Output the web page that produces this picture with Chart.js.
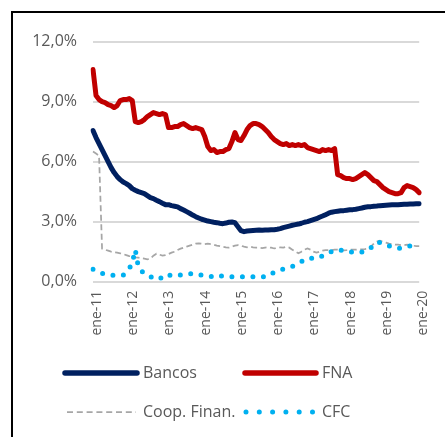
<!DOCTYPE html>
<html><head><meta charset="utf-8">
<script src="https://cdn.jsdelivr.net/npm/chart.js@4.4.1/dist/chart.umd.min.js"></script>
<style>
html,body{margin:0;padding:0;background:#fff;overflow:hidden}
#wrap{position:relative;width:445px;height:437px;overflow:hidden;background:#fff}
#frame{position:absolute;left:11px;top:11px;width:600px;height:600px;border:2px solid #000;box-sizing:border-box}
canvas{position:absolute;left:0;top:0}
</style></head><body>
<div id="wrap"><div id="frame"></div><canvas id="c" width="445" height="437"></canvas></div>
<script>
const monthNames = ["ene","feb","mar","abr","may","jun","jul","ago","sep","oct","nov","dic"];
const years = ["11","12","13","14","15","16","17","18","19","20"];
const seriesNames = ["Bancos","FNA","Coop. Finan.","CFC"];

const bancos = [
7.55,7.2,6.9,6.6,6.3,6.0,5.7,5.45,5.25,5.1,4.98,4.9,
4.8,4.65,4.57,4.5,4.45,4.4,4.3,4.2,4.15,4.07,4.0,3.92,
3.85,3.85,3.8,3.77,3.74,3.65,3.58,3.5,3.42,3.33,3.25,3.18,
3.12,3.08,3.03,3.0,2.97,2.95,2.92,2.9,2.93,2.97,2.98,2.95,
2.75,2.55,2.5,2.53,2.55,2.56,2.57,2.58,2.57,2.58,2.58,2.6,
2.6,2.62,2.65,2.7,2.74,2.78,2.82,2.85,2.88,2.92,2.97,3.0,
3.05,3.1,3.15,3.22,3.28,3.35,3.42,3.47,3.5,3.52,3.54,3.55,
3.57,3.59,3.6,3.62,3.65,3.68,3.72,3.74,3.75,3.77,3.78,3.8,
3.81,3.82,3.83,3.84,3.85,3.85,3.86,3.87,3.87,3.88,3.88,3.89,3.9];

const fna = [
10.6,9.3,9.1,9.0,8.95,8.85,8.8,8.7,8.8,9.05,9.1,9.1,
9.15,9.05,8.0,7.95,8.0,8.1,8.25,8.35,8.45,8.4,8.35,8.4,
8.35,7.7,7.7,7.75,7.75,7.85,7.9,7.8,7.7,7.65,7.7,7.65,
7.6,7.25,6.75,6.55,6.6,6.45,6.5,6.5,6.6,6.65,7.0,7.45,
7.1,7.05,7.3,7.6,7.8,7.9,7.9,7.85,7.75,7.6,7.45,7.25,
7.1,7.0,6.9,6.85,6.9,6.8,6.85,6.8,6.85,6.8,6.85,6.7,
6.65,6.6,6.55,6.5,6.6,6.55,6.6,6.55,6.65,5.35,5.3,5.2,
5.15,5.15,5.1,5.15,5.25,5.35,5.45,5.35,5.2,5.05,5.0,4.85,
4.7,4.6,4.5,4.45,4.4,4.4,4.45,4.7,4.8,4.75,4.7,4.6,4.45];

const coop = [
6.5,6.4,6.3,1.65,1.6,1.55,1.5,1.47,1.45,1.42,1.38,1.33,
1.28,1.25,1.22,1.2,1.17,1.15,1.12,1.15,1.3,1.4,1.35,1.3,
1.33,1.38,1.45,1.5,1.58,1.65,1.7,1.75,1.8,1.85,1.9,1.92,
1.9,1.88,1.9,1.88,1.85,1.8,1.78,1.75,1.72,1.7,1.75,1.8,
1.83,1.8,1.75,1.72,1.75,1.72,1.7,1.7,1.68,1.7,1.72,1.7,
1.66,1.68,1.72,1.7,1.74,1.7,1.6,1.5,1.42,1.5,1.6,1.66,
1.6,1.5,1.45,1.5,1.55,1.58,1.58,1.58,1.6,1.6,1.58,1.57,
1.58,1.6,1.6,1.6,1.62,1.62,1.63,1.65,1.75,1.9,2.0,2.05,
2.0,1.95,1.9,1.88,1.85,1.85,1.83,1.82,1.85,1.82,1.8,1.78,1.78];

const cfc = [
0.62,0.55,0.48,0.42,0.38,0.34,0.33,0.32,0.33,0.33,0.33,0.45,
0.65,0.95,1.6,0.75,0.55,0.4,0.3,0.25,0.18,0.14,0.12,0.25,
0.37,0.35,0.3,0.3,0.32,0.33,0.33,0.35,0.38,0.42,0.4,0.36,
0.33,0.3,0.28,0.25,0.28,0.33,0.3,0.26,0.25,0.25,0.25,0.25,
0.25,0.25,0.25,0.25,0.25,0.25,0.25,0.25,0.25,0.25,0.28,0.38,
0.48,0.53,0.58,0.63,0.67,0.72,0.77,0.82,0.9,1.0,1.1,1.17,
1.17,1.17,1.17,1.2,1.3,1.4,1.45,1.5,1.55,1.6,1.58,1.55,
1.5,1.5,1.48,1.46,1.45,1.48,1.52,1.6,1.7,1.85,1.98,1.95,
1.88,1.82,1.79,1.75,1.7,1.66,1.68,1.72,1.76,1.78,1.78,1.77,1.78];

const labels = [];
for (let i = 0; i < bancos.length; i++) {
  labels.push(monthNames[i % 12] + "-" + years[Math.floor(i / 12)]);
}

const FONT = "'Open Sans', 'DejaVu Sans', sans-serif";
const TXT = "#595959";

const legendLayout = [
  {i:0, x1:65, x2:137, y:373, tx:143},
  {i:1, x1:245, x2:316, y:373, tx:322},
  {i:2, x1:67, x2:136, y:412, tx:143},
  {i:3, x1:246, x2:313, y:412, tx:322}
];

const customLegend = {
  id: 'customLegend',
  afterDraw(chart) {
    const ctx = chart.ctx;
    legendLayout.forEach(it => {
      const ds = chart.data.datasets[it.i];
      ctx.save();
      ctx.strokeStyle = ds.borderColor;
      ctx.lineWidth = ds.legendWidth;
      ctx.lineCap = ds.borderCapStyle || 'butt';
      ctx.setLineDash(ds.legendDash || []);
      ctx.beginPath();
      ctx.moveTo(it.x1, it.y);
      ctx.lineTo(it.x2, it.y);
      ctx.stroke();
      ctx.setLineDash([]);
      ctx.fillStyle = TXT;
      ctx.font = "16px " + FONT;
      ctx.textAlign = 'left';
      ctx.textBaseline = 'middle';
      ctx.fillText(ds.label, it.tx, it.y + 0.5);
      ctx.restore();
    });
  }
};

new Chart(document.getElementById('c'), {
  type: 'line',
  data: {
    labels: labels,
    datasets: [
      {label: seriesNames[0], data: bancos, borderColor: '#002060', borderWidth: 5, legendWidth: 5.5,
       borderCapStyle: 'round', borderJoinStyle: 'round', pointRadius: 0, order: 3},
      {label: seriesNames[1], data: fna, borderColor: '#C00000', borderWidth: 5, legendWidth: 5.5,
       borderCapStyle: 'round', borderJoinStyle: 'round', pointRadius: 0, order: 4},
      {label: seriesNames[2], data: coop, borderColor: '#A6A6A6', borderWidth: 1.75, legendWidth: 1.75,
       borderDash: [6, 3.5], legendDash: [6, 3.8], borderCapStyle: 'butt', pointRadius: 0, order: 2},
      {label: seriesNames[3], data: cfc, borderColor: '#00B0F0', borderWidth: 5, legendWidth: 5,
       borderDash: [0, 10.5], legendDash: [0, 13.3], borderCapStyle: 'round', pointRadius: 0, order: 1}
    ]
  },
  options: {
    responsive: false,
    animation: false,
    layout: {padding: {top: 41.5, right: 16, left: 0, bottom: 0}},
    plugins: {legend: {display: false}, tooltip: {enabled: false}},
    elements: {line: {tension: 0}},
    scales: {
      x: {
        type: 'category',
        offset: false,
        grid: {display: false, drawTicks: false},
        border: {display: false},
        ticks: {
          autoSkip: false,
          maxRotation: 90, minRotation: 90,
          padding: 9,
          labelOffset: 4,
          color: TXT,
          font: {family: FONT, size: 14},
          callback: function(v, i) { return (i % 12 === 0) ? labels[i] : ''; }
        },
        afterFit: function(scale) { scale.height = 155.3; }
      },
      y: {
        min: 0, max: 12,
        grid: {color: '#D9D9D9', lineWidth: 2, drawTicks: false},
        border: {display: false},
        ticks: {
          stepSize: 3,
          padding: 16,
          color: TXT,
          font: {family: FONT, size: 16},
          callback: function(v) { return v.toFixed(1).replace('.', ',') + '%'; }
        },
        afterFit: function(scale) { scale.width = 93; }
      }
    }
  },
  plugins: [customLegend]
});
</script>
</body></html>
